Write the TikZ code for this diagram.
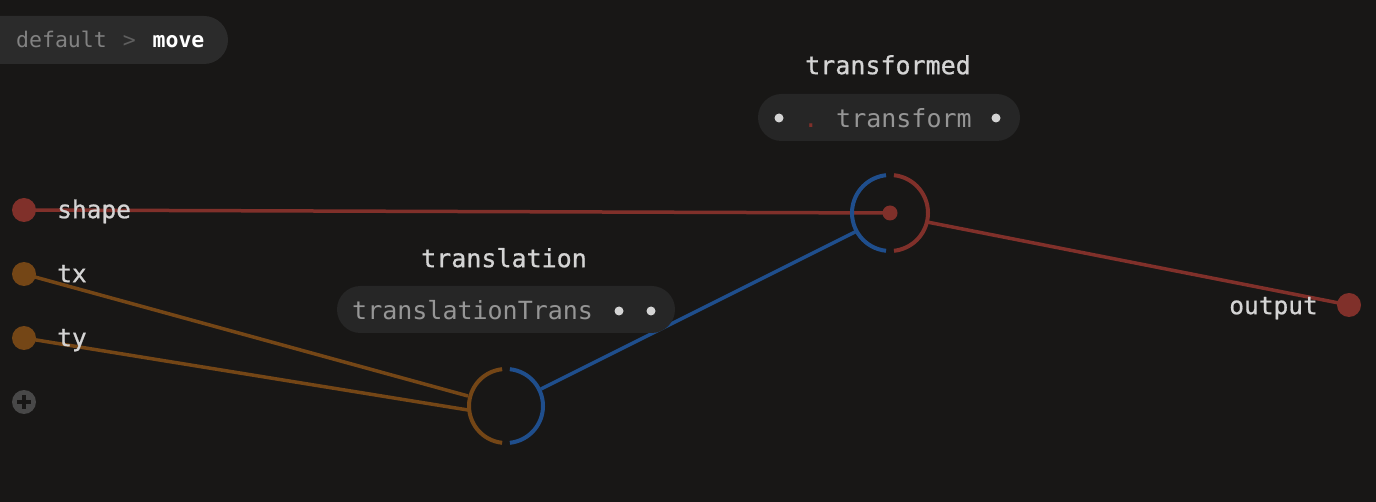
\documentclass[tikz,border=0pt]{standalone}
\usepackage{fontspec}
\setmonofont{DejaVu Sans Mono}
\newfontfamily\medmono[FakeBold=0.8]{DejaVu Sans Mono}
\definecolor{bg}{RGB}{24,23,22}
\definecolor{crumb}{RGB}{43,43,43}
\definecolor{pillbg}{RGB}{38,38,38}
\definecolor{lbl}{RGB}{212,212,212}
\definecolor{pilltxt}{RGB}{150,150,150}
\definecolor{dimtxt}{RGB}{130,130,130}
\definecolor{sepgray}{RGB}{95,95,95}
\definecolor{wred}{RGB}{128,48,42}
\definecolor{worange}{RGB}{116,70,22}
\definecolor{wblue}{RGB}{31,78,140}
\definecolor{plusbg}{RGB}{72,72,72}
\tikzset{
  port/.style={circle,fill=#1,minimum size=24pt,inner sep=0pt},
  lbltext/.style={font=\medmono\fontsize{24.5}{26}\selectfont,text=lbl,inner sep=0pt},
  titletext/.style={font=\medmono\fontsize{25}{27}\selectfont,text=lbl,inner sep=0pt},
  pilltext/.style={font=\ttfamily\fontsize{25}{27}\selectfont,text=pilltxt,inner sep=0pt},
  wire/.style={line width=3.5pt,draw=#1},
  arcline/.style={line width=4pt,draw=#1},
  pdot/.style={circle,fill=lbl,minimum size=9pt,inner sep=0pt},
}
\begin{document}
\begin{tikzpicture}[x=1pt,y=-1pt]
\fill[bg] (0,0) rectangle (1376,502);
\useasboundingbox (0,0) rectangle (1376,502);

% breadcrumb
\fill[crumb,rounded corners=24pt] (-40,16) rectangle (228,64);
\node[font=\ttfamily\fontsize{21.5}{24}\selectfont,anchor=mid west,inner sep=0pt] (crumb) at (16,45)
  {\textcolor{dimtxt}{default}\hspace{3pt} \textcolor{sepgray}{>}\hspace{4pt} \textcolor{white}{\bfseries move}};

% left ports
\node[port=wred] (shape) at (24,210) {};
\node[port=worange] (tx) at (24,274) {};
\node[port=worange] (ty) at (24,338) {};
\node[port=plusbg] (plus) at (24,402) {};
\draw[line width=4pt,draw=bg] (plus.center) ++(-7,0) -- ++(14,0);
\draw[line width=4pt,draw=bg] (plus.center) ++(0,-7) -- ++(0,14);

% output port
\node[port=wred] (output) at (1349,305) {};

% node centers
\coordinate (tfc) at (890,213);
\coordinate (trc) at (506,406);
\coordinate (trin1) at (468,396);
\coordinate (trin2) at (468,410);
\coordinate (trout) at (541,389);
\coordinate (tfin) at (857,231);
\coordinate (tfout) at (927,222);

% wires (under labels)
\draw[wire=wred] (shape.center) -- (tfc);
\draw[wire=worange] (tx.center) -- (trin1);
\draw[wire=worange] (ty.center) -- (trin2);
\draw[wire=wblue] (trout) -- (tfin);
\draw[wire=wred] (tfout) -- (output.center);

% port labels
\node[lbltext,anchor=mid west] (shapel) at (57,216) {shape};
\node[lbltext,anchor=mid west] (txl) at (57,280) {tx};
\node[lbltext,anchor=mid west] (tyl) at (57,344) {ty};
\node[lbltext,anchor=mid east] (outl) at (1318,312) {output};

% transformed node
\draw[arcline=wblue] (tfc) ++(96:38) arc[start angle=96,end angle=264,radius=38];
\draw[arcline=wred] (tfc) ++(-84:38) arc[start angle=-84,end angle=84,radius=38];
\node[circle,fill=wred,minimum size=15pt,inner sep=0pt] (tfdot) at (tfc) {};
\node[titletext,anchor=mid] (tft) at (888,72) {transformed};
\fill[pillbg,rounded corners=23.5pt] (758,94) rectangle (1020,141);
\node[pilltext,anchor=mid west] (tfp) at (836,125) {transform};
\node[pdot] (tfd1) at (779,118) {};
\node[pdot] (tfd2) at (996,118) {};
\node[pilltext,text=wred,anchor=mid] (tfdotp) at (811,125) {.};

% translation node
\draw[arcline=worange] (trc) ++(96:37) arc[start angle=96,end angle=264,radius=37];
\draw[arcline=wblue] (trc) ++(-84:37) arc[start angle=-84,end angle=84,radius=37];
\node[titletext,anchor=mid] (trt) at (504,265) {translation};
\fill[pillbg,rounded corners=23.5pt] (337,286) rectangle (675,333);
\node[pilltext,anchor=mid west] (trp) at (352,317) {translationTrans};
\node[pdot] (trd1) at (619,311) {};
\node[pdot] (trd2) at (651,311) {};
\end{tikzpicture}
\end{document}
